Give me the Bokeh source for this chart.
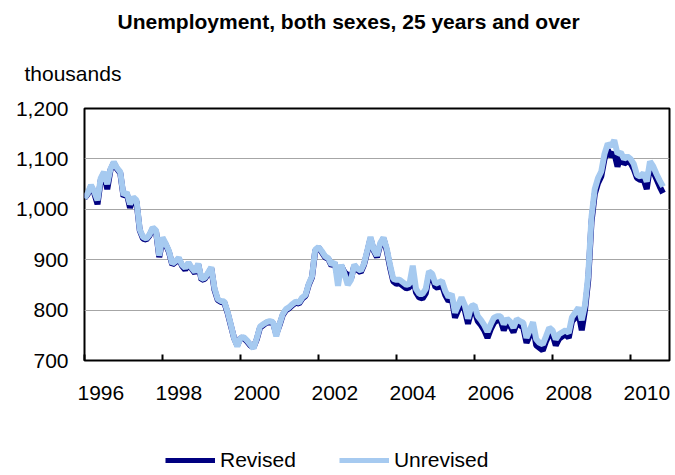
from bokeh.plotting import figure
from bokeh.models import (ColumnDataSource, FixedTicker, NumeralTickFormatter,
                          CustomJSTickFormatter, Legend, LegendItem, Range1d, Title)
from bokeh.layouts import column
from bokeh.embed import file_html
from bokeh.resources import INLINE

start_year = 1996

revised = [
    1022, 1030, 1045, 1032, 1010, 1058, 1072, 1040, 1078, 1092, 1080, 1072,
    1025, 1032, 1003, 1022, 1015, 958, 942, 940, 948, 962, 956, 905,
    940, 930, 915, 890, 895, 902, 888, 880, 892, 882, 873, 890,
    860, 862, 872, 883, 840, 820, 816, 815, 795, 770, 745, 730,
    745, 744, 738, 730, 726, 742, 765, 770, 775, 776, 775, 752,
    770, 790, 800, 804, 810, 815, 813, 823, 828, 850, 865, 918,
    924, 915, 905, 902, 888, 893, 865, 888, 875, 870, 862, 888,
    880, 875, 890, 915, 942, 918, 905, 930, 942, 918, 885, 857,
    852, 853, 848, 843, 845, 870, 835, 825, 823, 833, 870, 865,
    845, 846, 849, 830, 818, 823, 785, 800, 815, 800, 773, 798,
    800, 778, 770, 760, 745, 762, 775, 780, 780, 760, 775, 768,
    756, 774, 770, 765, 735, 750, 768, 730, 725, 720, 738, 752,
    752, 730, 743, 748, 752, 745, 778, 785, 795, 760, 800, 860,
    975, 1030, 1052, 1065, 1100, 1118, 1105, 1112, 1085, 1105, 1090, 1095,
    1092, 1080, 1062, 1058, 1060, 1040, 1085, 1075, 1060, 1045, 1032,
]

unrevised = [
    1022, 1032, 1048, 1035, 1018, 1062, 1074, 1050, 1080, 1094, 1082, 1074,
    1028, 1034, 1010, 1024, 1018, 960, 945, 942, 950, 964, 958, 908,
    944, 932, 917, 892, 897, 904, 890, 884, 894, 884, 876, 892,
    862, 864, 874, 885, 843, 822, 818, 817, 797, 772, 745, 728,
    745, 746, 740, 732, 724, 744, 767, 772, 776, 778, 776, 748,
    772, 792, 802, 806, 812, 817, 815, 825, 830, 852, 867, 920,
    925, 917, 907, 903, 890, 895, 848, 890, 872, 850, 860, 890,
    882, 878, 892, 918, 945, 920, 908, 933, 944, 922, 890, 862,
    860, 860, 855, 850, 852, 888, 842, 832, 832, 842, 877, 872,
    852, 855, 858, 838, 826, 832, 795, 810, 825, 810, 783, 808,
    810, 788, 780, 770, 757, 772, 785, 788, 788, 772, 783, 777,
    765, 782, 778, 775, 745, 760, 776, 742, 735, 732, 748, 765,
    760, 742, 752, 756, 760, 755, 786, 795, 805, 780, 810, 870,
    985, 1040, 1062, 1075, 1110, 1130, 1125, 1137, 1110, 1113, 1100, 1105,
    1100, 1090, 1068, 1065, 1072, 1055, 1095, 1085, 1070, 1057, 1045,
]

tick_years = [1996, 1998, 2000, 2002, 2004, 2006, 2008, 2010]
y_ticks = [700, 800, 900, 1000, 1100, 1200]

n = len(revised)
dates = [start_year + m / 12 for m in range(n)]
src = ColumnDataSource(data=dict(x=dates, revised=revised, unrevised=unrevised))

FONT = "Liberation Sans"
FS = "21px"
REV_COLOR = "#000080"
UNREV_COLOR = "#a6caf0"

p = figure(width=673, height=431, output_backend="svg", toolbar_location=None,
           x_range=Range1d(start_year, start_year + (n + 1) / 12),
           y_range=Range1d(700, 1200),
           min_border_left=84, min_border_right=4, min_border_top=108,
           min_border_bottom=71)

p.outline_line_color = "black"
p.outline_line_width = 2
p.xgrid.visible = False
p.ygrid.grid_line_color = "#a6a6a6"
p.ygrid.grid_line_width = 1
p.ygrid.ticker = FixedTicker(ticks=y_ticks)

# y axis
ya = p.yaxis[0]
ya.ticker = FixedTicker(ticks=y_ticks)
ya.formatter = NumeralTickFormatter(format="0,0")
ya.axis_line_color = None
ya.major_tick_in = 0
ya.major_tick_out = 0
ya.minor_tick_in = 0
ya.minor_tick_out = 0
ya.major_label_text_font = FONT
ya.major_label_text_font_size = FS
ya.major_label_text_color = "black"
ya.major_label_standoff = 16

# x axis: labels to the right of each year tick; tick marks drawn as minor ticks
xa = p.xaxis[0]
xa.ticker = FixedTicker(ticks=[t + 0.42 for t in tick_years], minor_ticks=tick_years)
xa.formatter = CustomJSTickFormatter(code="return Math.floor(tick + 0.01).toString()")
xa.axis_line_color = None
xa.major_tick_in = 0
xa.major_tick_out = 0
xa.minor_tick_in = 6
xa.minor_tick_out = 0
xa.minor_tick_line_width = 2
xa.minor_tick_line_color = "black"
xa.major_label_text_font = FONT
xa.major_label_text_font_size = FS
xa.major_label_text_color = "black"
xa.major_label_standoff = 25

p.line("x", "revised", source=src, line_color=REV_COLOR, line_width=6)
p.line("x", "unrevised", source=src, line_color=UNREV_COLOR, line_width=6)

unit = Title(text="thousands", align="left", offset=-60, standoff=47,
             text_font=FONT, text_font_size=FS, text_font_style="normal",
             text_color="black")
p.add_layout(unit, "above")

title = Title(text="Unemployment, both sexes, 25 years and over", align="left",
              offset=33, standoff=7,
              text_font=FONT, text_font_size=FS, text_font_style="bold",
              text_color="black")
p.add_layout(title, "above")

# legend strip below the chart (its lines reuse the data, outside this strip's ranges)
lg = figure(width=673, height=42, output_backend="svg", toolbar_location=None,
            x_range=Range1d(0, 1), y_range=Range1d(0, 1),
            x_axis_type=None, y_axis_type=None, min_border=0)
lg.outline_line_color = None
lg.grid.visible = False
k1 = lg.line("x", "revised", source=src, line_color=REV_COLOR, line_width=5)
k2 = lg.line("x", "unrevised", source=src, line_color=UNREV_COLOR, line_width=5)
legend = Legend(items=[LegendItem(label="Revised", renderers=[k1]),
                       LegendItem(label="Unrevised", renderers=[k2])],
                orientation="horizontal", location=(81, 1),
                padding=0, margin=0, spacing=43, glyph_width=50, glyph_height=24,
                label_height=24, label_standoff=5,
                label_text_font=FONT, label_text_font_size=FS, label_text_color="black",
                border_line_color=None, background_fill_alpha=0)
lg.add_layout(legend, "center")

layout = column(p, lg, spacing=0)

open("out.html", "w").write(file_html(layout, INLINE))
